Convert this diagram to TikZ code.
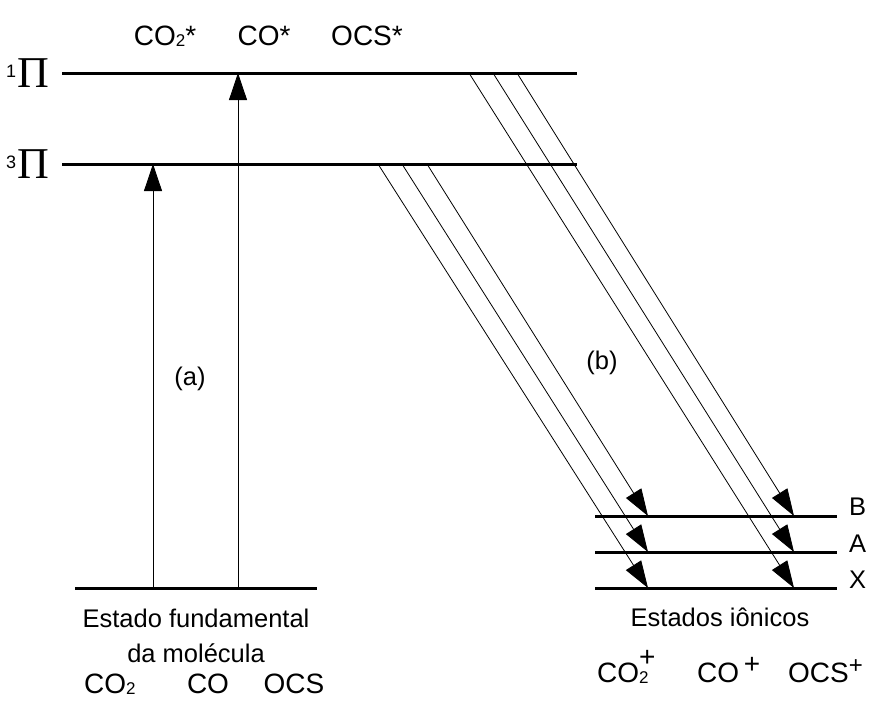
\documentclass[tikz,border=0pt]{standalone}
\usepackage{fontspec}
\setmainfont{Liberation Sans}
\newfontfamily\pifont{Liberation Serif}
\usetikzlibrary{arrows.meta}
\newcommand{\pilabel}[1]{\raisebox{10pt}{\fontsize{18}{20}\selectfont #1}\kern1pt{\pifont\fontsize{44}{46}\selectfont Π}}
\newcommand{\smalltwo}{\raisebox{-1pt}{\fontsize{17}{18}\selectfont 2}}
\begin{document}
\begin{tikzpicture}[x=1pt,y=-1pt,
  level/.style={line width=3pt},
  trans/.style={line width=0.8pt,-{Triangle[length=27pt,width=18pt]}},
  big/.style={font=\fontsize{28}{32}\selectfont, inner sep=0pt},
  mid/.style={font=\fontsize{25.5}{30}\selectfont, inner sep=0pt},
  pilab/.style={inner sep=0pt, anchor=base east}]
\useasboundingbox (0,0) rectangle (869,705);
% levels
\coordinate (p1L) at (62,73);   \coordinate (p1R) at (577,73);
\coordinate (p3L) at (62,164);  \coordinate (p3R) at (577,164);
\coordinate (gL) at (75,588);   \coordinate (gR) at (317,588);
\coordinate (bL) at (595,516);  \coordinate (bR) at (837,516);
\coordinate (aL) at (595,552);  \coordinate (aR) at (837,552);
\coordinate (xL) at (595,588);  \coordinate (xR) at (837,588);
\draw[level] (p1L) -- (p1R);
\draw[level] (p3L) -- (p3R);
\draw[level] (gL) -- (gR);
\draw[level] (bL) -- (bR);
\draw[level] (aL) -- (aR);
\draw[level] (xL) -- (xR);
% vertical excitations
\coordinate (ga) at (153,588); \coordinate (ta) at (153,164);
\coordinate (gb) at (238,588); \coordinate (tb) at (238,73);
\draw[trans] (ga) -- (ta);
\draw[trans] (gb) -- (tb);
% diagonal transitions from 3Pi
\coordinate (s31) at (378,164); \coordinate (s32) at (402,164); \coordinate (s33) at (427,164);
\coordinate (eX1) at (648,588); \coordinate (eA1) at (648,552); \coordinate (eB1) at (648,516);
\draw[trans] (s31) -- (eX1);
\draw[trans] (s32) -- (eA1);
\draw[trans] (s33) -- (eB1);
% diagonal transitions from 1Pi
\coordinate (s11) at (469,73); \coordinate (s12) at (493,73); \coordinate (s13) at (517,73);
\coordinate (eX2) at (794,588); \coordinate (eA2) at (794,552); \coordinate (eB2) at (794,516);
\draw[trans] (s11) -- (eX2);
\draw[trans] (s12) -- (eA2);
\draw[trans] (s13) -- (eB2);
% labels
\node[pilab] (l1) at (49,87) {\pilabel{1}};
\node[pilab] (l3) at (49,178) {\pilabel{3}};
\node[big,anchor=base] (t1) at (165,45) {CO\smalltwo*};
\node[big,anchor=base] (t2) at (264,45) {CO*};
\node[big,anchor=base] (t3) at (367,45) {OCS*};
\node[mid] (la) at (190,379) {(a)};
\node[mid] (lb) at (602,363) {(b)};
\node[mid,anchor=base west] (nB) at (849,515) {B};
\node[mid,anchor=base west] (nA) at (849,552) {A};
\node[mid,anchor=base west] (nX) at (849,588) {X};
\node[mid,anchor=base] (ef) at (196,627) {Estado fundamental};
\node[mid,anchor=base] (dm) at (196,662) {da molécula};
\node[big,anchor=base west] (m1) at (84,693) {CO\smalltwo};
\node[big,anchor=base] (m2) at (208,693) {CO};
\node[big,anchor=base] (m3) at (294,693) {OCS};
\node[mid,anchor=base] (ei) at (720,626) {Estados iônicos};
\node[big,anchor=base west] (i1) at (597,682) {CO\rlap{\smalltwo}\raisebox{16pt}{+}};
\node[big,anchor=base west] (i2) at (697,682) {CO\,\raisebox{9pt}{+}};
\node[big,anchor=base west] (i3) at (788,682) {OCS\raisebox{9pt}{\fontsize{24}{26}\selectfont +}};
\end{tikzpicture}
\end{document}
